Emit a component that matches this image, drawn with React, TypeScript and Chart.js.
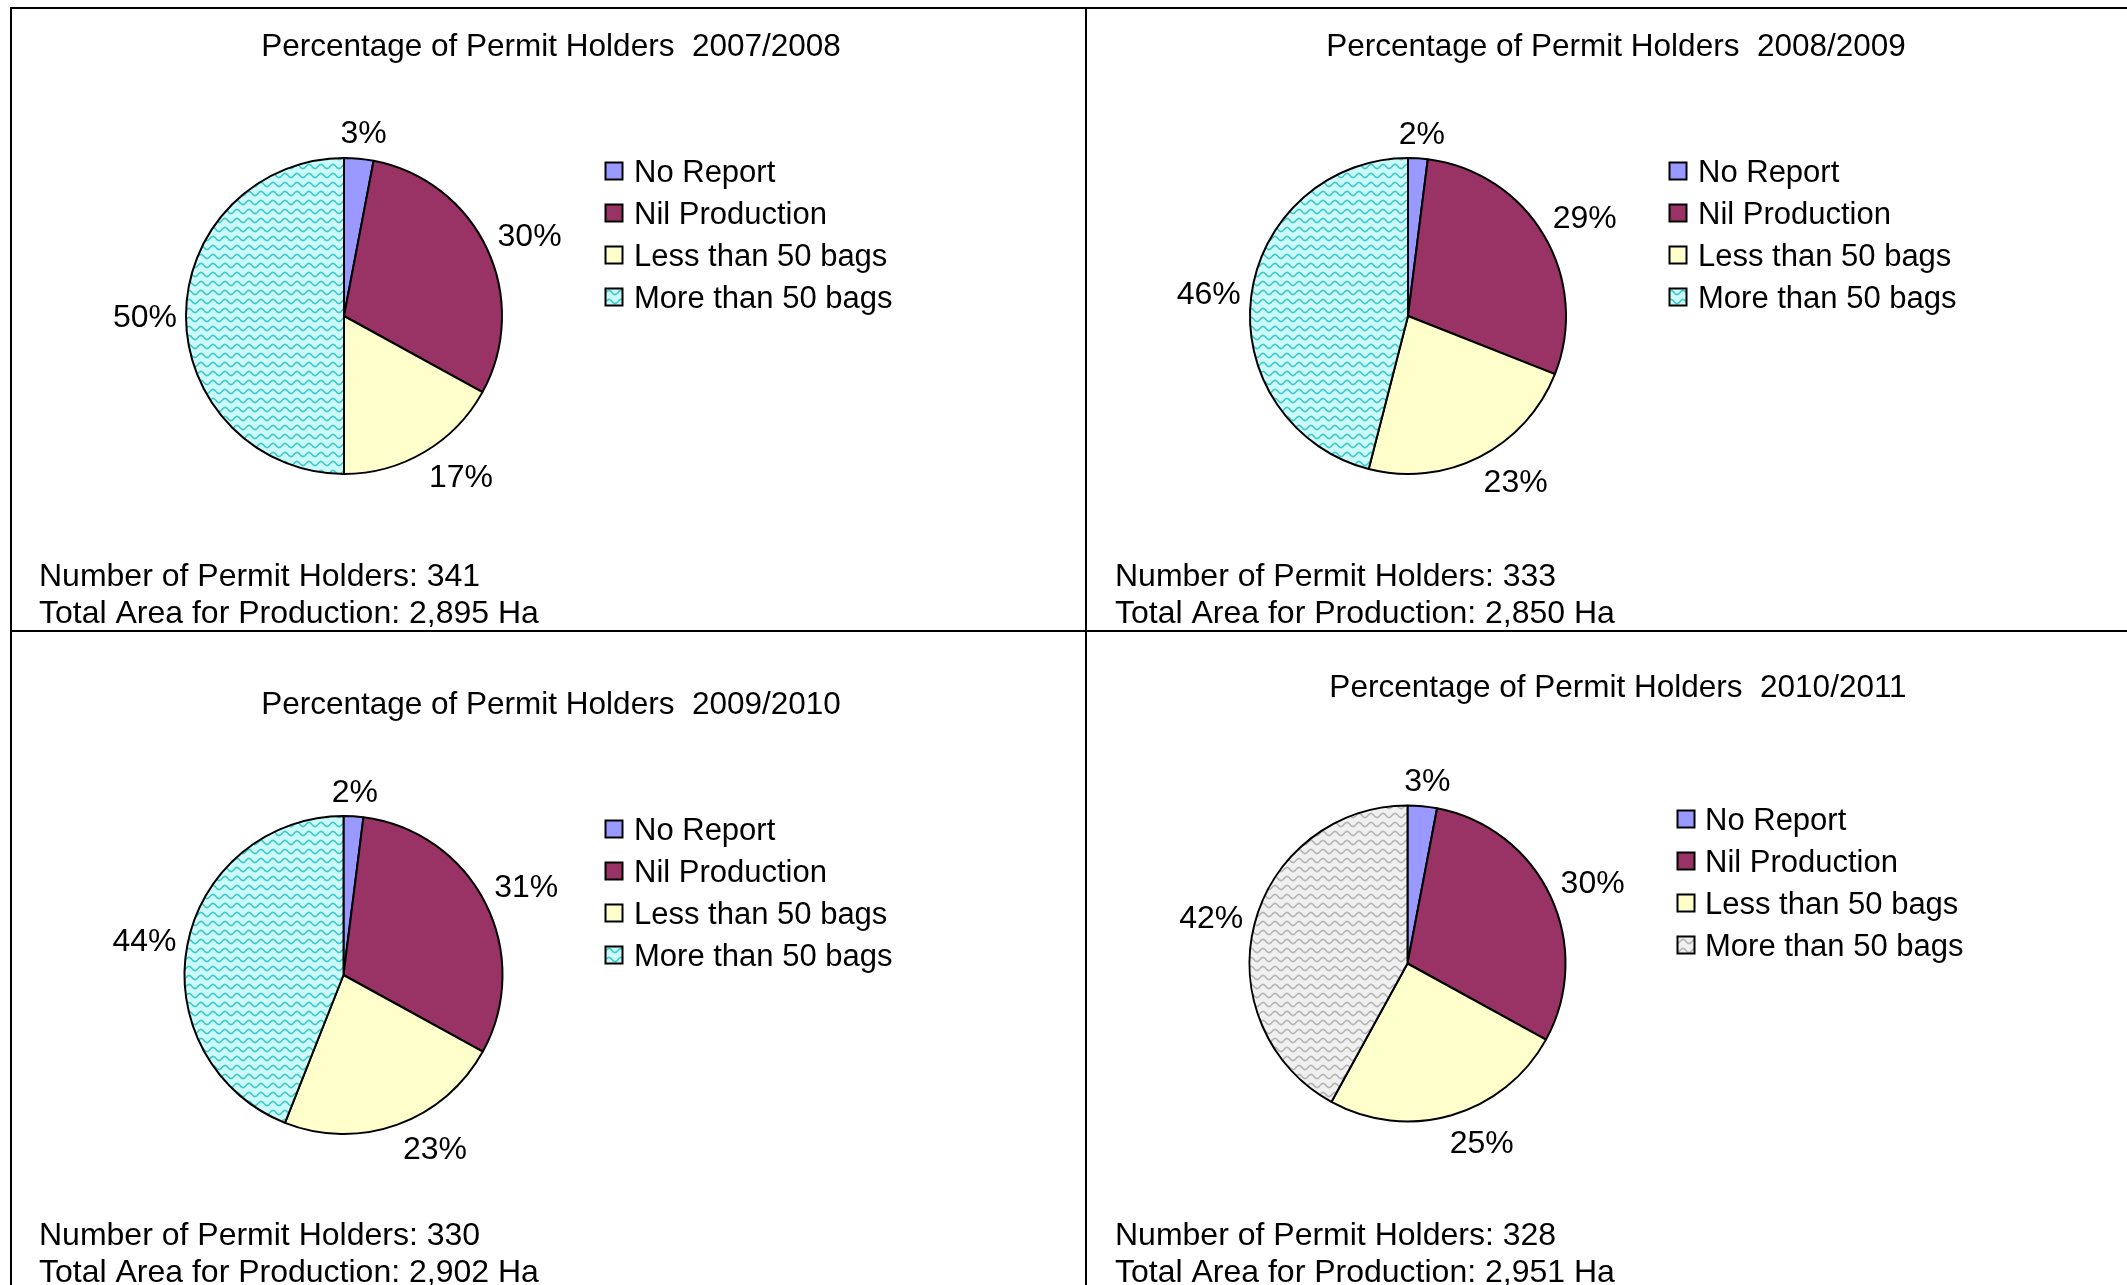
import React, { useEffect, useRef } from 'react';
import { Chart, registerables } from 'chart.js';

Chart.register(...registerables);

// ---------- data ----------
const categories = ['No Report', 'Nil Production', 'Less than 50 bags', 'More than 50 bags'];
const seasons = ['2007/2008', '2008/2009', '2009/2010', '2010/2011'];
const share0708 = [3, 30, 17, 50];
const share0809 = [2, 29, 23, 46];
const share0910 = [2, 31, 23, 44];
const share1011 = [3, 30, 25, 42];
const permitHolders = [341, 333, 330, 328];
const productionAreaHa = [2895, 2850, 2902, 2951];

const seasonShares = [share0708, share0809, share0910, share1011];

// ---------- styles / layout ----------
const FAMILY = '"Liberation Sans", Arial, Helvetica, sans-serif';
const TITLE_FONT = `31.5px ${FAMILY}`;
const LABEL_FONT = `32px ${FAMILY}`;
const LEGEND_FONT = `31px ${FAMILY}`;
const FOOT_FONT = `32px ${FAMILY}`;
const TEXT_DY = 2;
const LABEL_GAP = 9;
const solidColors = ['#9999FF', '#993366', '#FFFFCC'];
const waveStyles = [
  { bg: '#CCFAFA', fg: '#3CC8C8' },
  { bg: '#CCFAFA', fg: '#3CC8C8' },
  { bg: '#CCFAFA', fg: '#3CC8C8' },
  { bg: '#F0F0F0', fg: '#B4B4B4' },
];

type PanelStyle = {
  left: number; top: number; width: number; height: number;
  cx: number; cy: number; r: number;
  titleX: number; titleY: number;
  legSqX: number; legTextX: number; legY: number; legStep: number;
  footX: number; footY: number; footStep: number;
  labelNudgeDeg: number[];
};

const panelStyles: PanelStyle[] = [
  { left: 0, top: 0, width: 1086, height: 631, cx: 344, cy: 316, r: 158,
    titleX: 551, titleY: 45, legSqX: 614, legTextX: 634, legY: 171, legStep: 42,
    footX: 39, footY: 575, footStep: 37, labelNudgeDeg: [0.7, 1.7, -5.6, 0] },
  { left: 1086, top: 0, width: 1041, height: 631, cx: 322, cy: 316, r: 158,
    titleX: 530, titleY: 45, legSqX: 592, legTextX: 612, legY: 171, legStep: 42,
    footX: 29, footY: 575, footStep: 37, labelNudgeDeg: [0.7, 1.5, -6.1, -0.6] },
  { left: 0, top: 631, width: 1086, height: 654, cx: 343.5, cy: 344, r: 159,
    titleX: 551, titleY: 72, legSqX: 614, legTextX: 634, legY: 198, legStep: 42,
    footX: 39, footY: 603, footStep: 37, labelNudgeDeg: [-0.1, 1.0, -8.0, -0.8] },
  { left: 1086, top: 631, width: 1041, height: 654, cx: 321.5, cy: 332.5, r: 158,
    titleX: 532, titleY: 55, legSqX: 600, legTextX: 619, legY: 188, legStep: 42,
    footX: 29, footY: 603, footStep: 37, labelNudgeDeg: [0.8, 1.4, -6.4, -1.2] },
];

function makeWave(ctx: CanvasRenderingContext2D, bg: string, fg: string): CanvasPattern | string {
  const c = document.createElement('canvas');
  c.width = 12;
  c.height = 9;
  const x = c.getContext('2d');
  if (!x) return bg;
  x.fillStyle = bg;
  x.fillRect(0, 0, 12, 9);
  x.strokeStyle = fg;
  x.lineWidth = 1.6;
  x.beginPath();
  for (let i = -2; i <= 14; i += 0.5) {
    const y = 4.5 + 2.1 * Math.sin((i / 12) * 2 * Math.PI);
    if (i === -2) x.moveTo(i, y);
    else x.lineTo(i, y);
  }
  x.stroke();
  return ctx.createPattern(c, 'repeat') || bg;
}

function PiePanel({ index }: { index: number }) {
  const ref = useRef<HTMLCanvasElement | null>(null);
  const st = panelStyles[index];

  useEffect(() => {
    const canvas = ref.current;
    if (!canvas) return;
    const ctx = canvas.getContext('2d');
    if (!ctx) return;
    const wave = makeWave(ctx, waveStyles[index].bg, waveStyles[index].fg);
    const fills: (string | CanvasPattern)[] = [...solidColors, wave];
    const half = 170;

    const overlay = {
      id: 'overlay',
      afterDraw(chart: any) {
        const c: CanvasRenderingContext2D = chart.ctx;
        c.save();
        c.fillStyle = '#000';
        c.textBaseline = 'middle';

        // title
        c.font = TITLE_FONT;
        c.textAlign = 'center';
        c.fillText(`Percentage of Permit Holders  ${seasons[index]}`, st.titleX, st.titleY + TEXT_DY);

        // data labels outside the slices
        c.font = LABEL_FONT;
        const meta = chart.getDatasetMeta(0);
        const values: number[] = chart.data.datasets[0].data;
        meta.data.forEach((arc: any, i: number) => {
          const p = arc.getProps(['x', 'y', 'startAngle', 'endAngle', 'outerRadius'], true);
          const mid = (p.startAngle + p.endAngle) / 2 + (st.labelNudgeDeg[i] * Math.PI) / 180;
          const dx = Math.cos(mid);
          const dy = Math.sin(mid);
          const txt = `${values[i]}%`;
          const w = c.measureText(txt).width;
          const h = 30;
          const d = p.outerRadius + LABEL_GAP + Math.abs(dx) * w / 2 + Math.abs(dy) * h / 2;
          c.textAlign = 'center';
          c.fillText(txt, p.x + d * dx, p.y + d * dy + TEXT_DY);
        });

        // legend
        c.font = LEGEND_FONT;
        c.textAlign = 'left';
        categories.forEach((name, i) => {
          const y = st.legY + i * st.legStep;
          const s = 17;
          c.fillStyle = fills[i] as any;
          c.fillRect(st.legSqX - s / 2, y - s / 2, s, s);
          c.lineWidth = 2;
          c.strokeStyle = '#000';
          c.strokeRect(st.legSqX - s / 2, y - s / 2, s, s);
          c.fillStyle = '#000';
          c.fillText(name, st.legTextX, y + TEXT_DY);
        });

        // footer
        c.font = FOOT_FONT;
        c.fillText(`Number of Permit Holders: ${permitHolders[index]}`, st.footX, st.footY + TEXT_DY);
        c.fillText(
          `Total Area for Production: ${productionAreaHa[index].toLocaleString('en-US')} Ha`,
          st.footX,
          st.footY + st.footStep + TEXT_DY,
        );
        c.restore();
      },
    };

    const chart = new Chart(canvas, {
      type: 'pie',
      data: {
        labels: categories,
        datasets: [
          {
            data: seasonShares[index],
            backgroundColor: fills as any,
            borderColor: '#000000',
            borderWidth: 2,
            hoverOffset: 0,
            radius: st.r,
          } as any,
        ],
      },
      options: {
        responsive: false,
        animation: false,
        devicePixelRatio: 1,
        events: [],
        layout: {
          padding: {
            left: st.cx - half,
            top: st.cy - half,
            right: st.width - st.cx - half,
            bottom: st.height - st.cy - half,
          },
        },
        plugins: {
          legend: { display: false },
          title: { display: false },
          tooltip: { enabled: false },
        },
      } as any,
      plugins: [overlay],
    });
    return () => chart.destroy();
  }, [index]);

  return (
    <canvas
      ref={ref}
      width={st.width}
      height={st.height}
      style={{ position: 'absolute', left: st.left, top: st.top, width: st.width, height: st.height }}
    />
  );
}

export default function App() {
  const line = (l: number, t: number, w: number, h: number) => (
    <div style={{ position: 'absolute', left: l, top: t, width: w, height: h, background: '#000', zIndex: 2 }} />
  );
  return (
    <div
      style={{
        position: 'absolute',
        left: 0,
        top: 0,
        width: 2127,
        height: 1285,
        background: '#ffffff',
        overflow: 'hidden',
      }}
    >
      {panelStyles.map((_, i) => (
        <PiePanel key={i} index={i} />
      ))}
      {line(10, 7, 2117, 2)}
      {line(10, 7, 2, 1278)}
      {line(1085, 7, 2, 1278)}
      {line(10, 630, 2117, 2)}
    </div>
  );
}
